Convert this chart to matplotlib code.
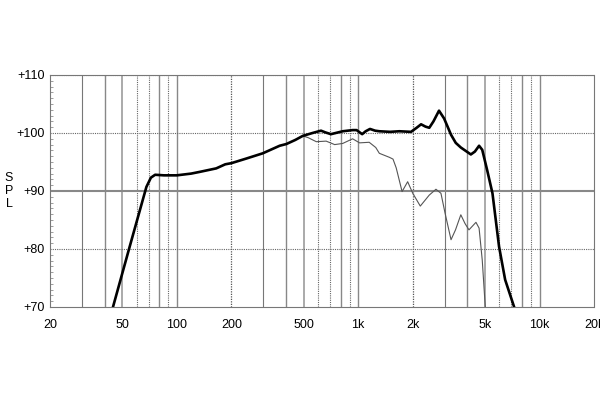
import matplotlib
matplotlib.use('Agg')
import matplotlib.pyplot as plt
import numpy as np

plt.rcParams['font.family'] = ['Liberation Sans', 'DejaVu Sans']

# on-axis response (thick line)
freq_a = [44.5, 55, 68, 72, 76, 85, 100, 120, 134, 165, 185, 200, 242, 298, 369,
          402, 450, 495, 560, 624, 660, 708, 822, 932, 980, 1052, 1100, 1162, 1240,
          1308, 1500, 1686, 1956, 2100, 2222, 2350, 2466, 2600, 2790, 2977, 3250,
          3450, 3680, 4180, 4400, 4640, 4830, 5150, 5500, 5980, 6460, 7240]
spl_a = [70.0, 80.4, 90.7, 92.3, 92.8, 92.7, 92.7, 93.0, 93.3, 93.9, 94.6, 94.8,
         95.6, 96.5, 97.8, 98.1, 98.8, 99.5, 100.0, 100.4, 100.1, 99.8, 100.3, 100.5,
         100.5, 99.8, 100.3, 100.7, 100.4, 100.3, 100.2, 100.3, 100.2, 100.9, 101.5,
         101.1, 100.9, 102.0, 103.85, 102.5, 99.7, 98.3, 97.5, 96.3, 96.8, 97.8, 97.1,
         93.5, 89.6, 80.4, 74.7, 70.0]

# off-axis response (thin line)
freq_b = [495, 530, 562, 588, 666, 742, 822, 932, 1018, 1150, 1250, 1308, 1488,
          1556, 1620, 1650, 1746, 1874, 2000, 2200, 2466, 2684, 2860, 3012, 3250,
          3440, 3680, 3880, 4080, 4460, 4640, 4830, 5020]
spl_b = [99.5, 99.2, 98.8, 98.5, 98.6, 98.0, 98.2, 99.0, 98.3, 98.4, 97.5, 96.5,
         95.8, 95.5, 94.0, 93.0, 89.9, 91.6, 89.6, 87.4, 89.3, 90.3, 89.6, 86.2,
         81.6, 83.3, 85.9, 84.4, 83.3, 84.6, 83.6, 78.1, 70.0]

xticks = [20, 50, 100, 200, 500, 1000, 2000, 5000, 10000, 20000]
xlabels = ['20', '50', '100', '200', '500', '1k', '2k', '5k', '10k', '20k']
yticks = [70, 80, 90, 100, 110]
ylabels = ['+70', '+80', '+90', '+100', '+110']

fig = plt.figure(figsize=(6, 4), dpi=100)
ax = fig.add_axes([0.0833, 0.2325, 0.907, 0.58])
ax.set_xscale('log')
ax.set_xlim(20, 20000)
ax.set_ylim(70, 110)

# vertical grid, style varies with the multiple (as in the scan)
dot = (0, (1, 1))
styles = {1: ('#888888', '-', 1.0), 2: ('#555555', dot, 0.9), 3: ('#777777', '-', 0.8),
          4: ('#888888', '-', 1.0), 5: ('#aaaaaa', '-', 1.4), 6: ('#666666', dot, 0.8),
          7: ('#666666', dot, 0.8), 8: ('#888888', '-', 1.0), 9: ('#666666', dot, 0.8)}
for dec in [10, 100, 1000, 10000]:
    for m in range(1, 10):
        f = m * dec
        if f <= 20 or f >= 20000:
            continue
        c, ls, lw = styles[m]
        ax.axvline(f, color=c, linestyle=ls, linewidth=lw, zorder=1)

for yv in [80, 100, 110]:
    ax.axhline(yv, color='#666666', linestyle=dot, linewidth=0.8, zorder=1)
ax.axhline(90, color='#888888', linewidth=1.5, zorder=1)

ax.plot(freq_b, spl_b, color='#555555', linewidth=0.8, zorder=3)
ax.plot(freq_a, spl_a, color='black', linewidth=1.9, zorder=4)

for s in ax.spines.values():
    s.set_color('#777777')
    s.set_linewidth(0.8)
    s.set_linestyle(dot)

ax.set_xticks(xticks)
ax.set_xticklabels(xlabels)
ax.xaxis.set_minor_locator(matplotlib.ticker.NullLocator())
ax.set_yticks(yticks)
ax.set_yticklabels(ylabels)
ax.set_yticks(np.arange(70, 111, 1), minor=True)
ax.tick_params(axis='x', length=0, labelsize=9, pad=9)
ax.tick_params(axis='y', which='major', length=0, labelsize=9, pad=4)
ax.tick_params(axis='y', which='minor', direction='in', length=2, width=0.5, color='#777777')

fig.text(0.015, 0.5225, 'S\nP\nL', fontsize=9, ha='center', va='center', linespacing=1.1)

fig.savefig('out.png', dpi=100)
